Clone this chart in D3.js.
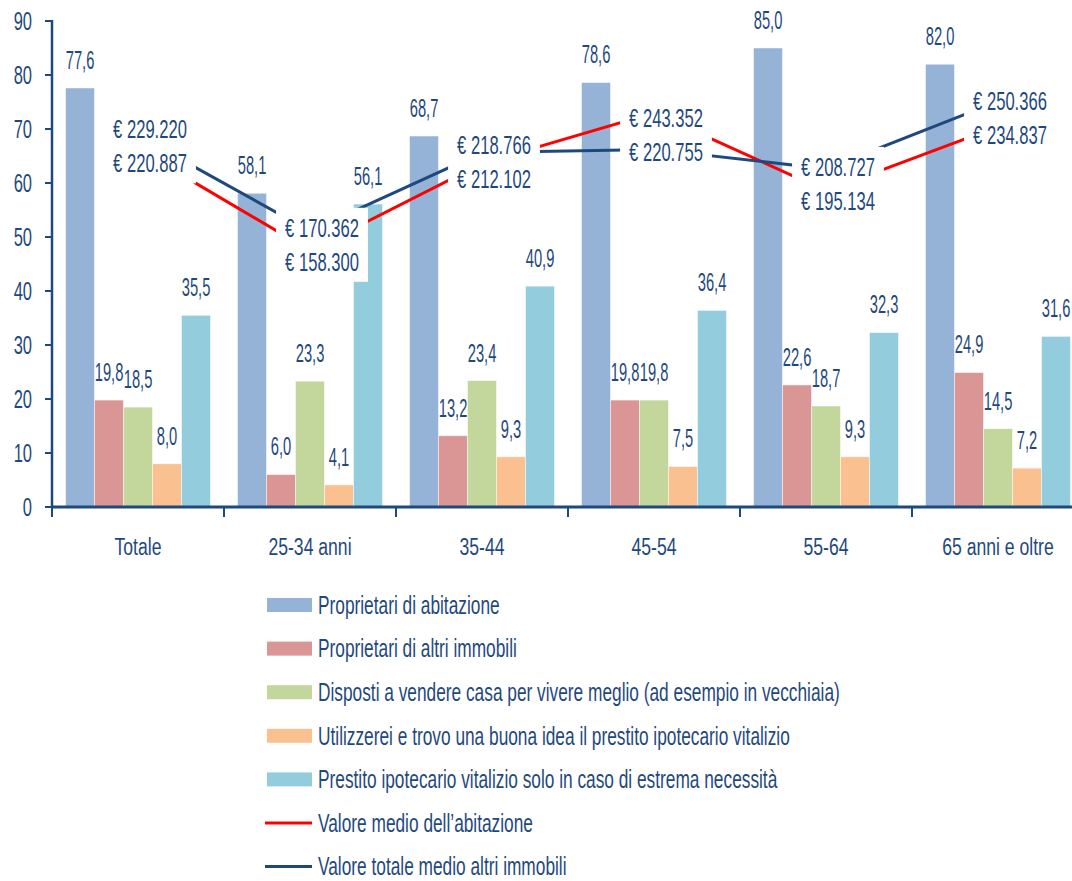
<!DOCTYPE html>
<html>
<head>
<meta charset="utf-8">
<script src="https://cdn.jsdelivr.net/npm/d3@7"></script>
<style>
  body { margin: 0; background: #fff; }
  svg text { font-family: "Liberation Sans", Arial, sans-serif; fill: #1F497D; }
</style>
</head>
<body>
<div id="chart"></div>
<script>
// Dati
var categories = ['Totale', '25-34 anni', '35-44', '45-54', '55-64', '65 anni e oltre'];
var barSeriesNames = [
  'Proprietari di abitazione',
  'Proprietari di altri immobili',
  'Disposti a vendere casa per vivere meglio (ad esempio in vecchiaia)',
  'Utilizzerei e trovo una buona idea il prestito ipotecario vitalizio',
  'Prestito ipotecario vitalizio solo in caso di estrema necessità'
];
var proprietariAbitazione = [77.6, 58.1, 68.7, 78.6, 85.0, 82.0];
var proprietariAltri = [19.8, 6.0, 13.2, 19.8, 22.6, 24.9];
var dispostiVendere = [18.5, 23.3, 23.4, 19.8, 18.7, 14.5];
var utilizzerei = [8.0, 4.1, 9.3, 7.5, 9.3, 7.2];
var prestitoNecessita = [35.5, 56.1, 40.9, 36.4, 32.3, 31.6];

var lineSeriesNames = ['Valore medio dell\u2019abitazione', 'Valore totale medio altri immobili'];
var valoreAbitazione = [220887, 158300, 212102, 243352, 195134, 234837];
var valoreAltri = [229220, 170362, 218766, 220755, 208727, 250366];

var yTicks = [0, 10, 20, 30, 40, 50, 60, 70, 80, 90];

var barColors = ['#95B3D7', '#D99694', '#C3D69B', '#FAC090', '#93CDDD'];
var lineColors = ['#FF0000', '#1F497D'];
var textColor = '#1F497D';

var barValues = [proprietariAbitazione, proprietariAltri, dispostiVendere, utilizzerei, prestitoNecessita];
var lineValues = [valoreAbitazione, valoreAltri];

// Dimensioni
var W = 1072, H = 881;
var plot = {left: 52, top: 21, bottom: 507, band: 172};

var svg = d3.select('#chart').append('svg')
  .attr('width', W)
  .attr('height', H);

var it = d3.formatLocale({decimal: ',', thousands: '.', grouping: [3], currency: ['€ ', '']});
var fmt1 = it.format('.1f');
var fmtEuro = it.format('$,d');

// Scale
var x = d3.scaleBand()
  .domain(categories)
  .range([plot.left, plot.left + plot.band * categories.length]);

var xInner = d3.scaleBand()
  .domain(d3.range(barValues.length))
  .range([13.5, plot.band - 13.5]);

var y = d3.scaleLinear().domain([0, 90]).range([plot.bottom, plot.top]);
var y2 = d3.scaleLinear().domain([0, 300000]).range([plot.bottom, plot.top]);

// testo stretto e allungato in verticale come nell'originale
function addText(parent, px, py, str, size, ky, anchor, kx) {
  return parent.append('g')
    .attr('transform', 'translate(' + px + ',' + py + ') scale(' + (kx || 1) + ',' + ky + ')')
    .append('text')
    .attr('dy', '0.35em')
    .attr('text-anchor', anchor || 'middle')
    .style('font-size', size + 'px')
    .text(str);
}

// Barre
var bars = svg.append('g').classed('bars', true);
barValues.forEach(function(vals, s) {
  bars.selectAll('.bar-' + s)
    .data(vals)
    .enter()
    .append('rect')
    .attr('class', 'bar-' + s)
    .attr('x', function(d, i) { return x(categories[i]) + xInner(s); })
    .attr('y', function(d) { return y(d); })
    .attr('width', xInner.bandwidth())
    .attr('height', function(d) { return y(0) - y(d); })
    .style('fill', barColors[s])
    .style('stroke', 'rgba(255,255,255,0.6)')
    .style('stroke-width', 0.8);
});

// Linee (asse secondario nascosto)
var cx = function(i) { return x(categories[i]) + x.bandwidth() / 2; };
var line = d3.line()
  .x(function(d, i) { return cx(i); })
  .y(function(d) { return y2(d); });

lineValues.forEach(function(vals, s) {
  svg.append('path')
    .datum(vals)
    .attr('d', line)
    .style('fill', 'none')
    .style('stroke', lineColors[s])
    .style('stroke-width', 3);
});

// Etichette valori in euro, con sfondo bianco
var euroLayer = svg.append('g').classed('euro-labels', true);
categories.forEach(function(c, i) {
  var a = valoreAbitazione[i], b = valoreAltri[i];
  var mid = (y2(a) + y2(b)) / 2 + 4;
  var top = Math.max(a, b), bottom = Math.min(a, b);
  var lx = cx(i) + 12;
  var box = euroLayer.append('rect').style('fill', '#fff');
  var t1 = addText(euroLayer, lx, mid - 17, fmtEuro(top), 16.6, 1.5);
  var t2 = addText(euroLayer, lx, mid + 17, fmtEuro(bottom), 16.6, 1.5);
  var w = Math.max(t1.node().getComputedTextLength(), t2.node().getComputedTextLength());
  box.attr('x', lx - w / 2 - 9)
    .attr('y', mid - 37)
    .attr('width', w + 18)
    .attr('height', 74);
});

// Etichette sopra le barre
var valueLayer = svg.append('g').classed('value-labels', true);
barValues.forEach(function(vals, s) {
  vals.forEach(function(v, i) {
    addText(valueLayer, x(categories[i]) + xInner(s) + xInner.bandwidth() / 2, y(v) - 28, fmt1(v), 17.5, 1.45, 'middle', 0.84);
  });
});

// Asse Y
var axisY = svg.append('g').classed('y axis', true);
axisY.append('line')
  .attr('x1', plot.left).attr('x2', plot.left)
  .attr('y1', y(90) - 1).attr('y2', y(0))
  .style('stroke', textColor).style('stroke-width', 2.5);
yTicks.forEach(function(t) {
  axisY.append('line')
    .attr('x1', plot.left - 7).attr('x2', plot.left)
    .attr('y1', y(t)).attr('y2', y(t))
    .style('stroke', textColor).style('stroke-width', 2);
  addText(axisY, plot.left - 20, y(t), t, 16.5, 1.55, 'end');
});

// Asse X
var axisX = svg.append('g').classed('x axis', true);
axisX.append('line')
  .attr('x1', plot.left - 1).attr('x2', W)
  .attr('y1', y(0)).attr('y2', y(0))
  .style('stroke', textColor).style('stroke-width', 3);
categories.forEach(function(c, i) {
  axisX.append('line')
    .attr('x1', x(c)).attr('x2', x(c))
    .attr('y1', y(0)).attr('y2', y(0) + 10)
    .style('stroke', textColor).style('stroke-width', 2);
  addText(axisX, cx(i), 546, c, 17.6, 1.38);
});

// Legenda
var legend = svg.append('g').classed('legend', true);
var legendItems = barSeriesNames.map(function(n, s) { return {name: n, type: 'bar', color: barColors[s]}; })
  .concat(lineSeriesNames.map(function(n, s) { return {name: n, type: 'line', color: lineColors[s]}; }));

legendItems.forEach(function(d, k) {
  var ly = 605 + k * 43.6;
  if (d.type === 'bar') {
    legend.append('rect')
      .attr('x', 267).attr('y', ly - 7)
      .attr('width', 45).attr('height', 14)
      .style('fill', d.color);
  } else {
    legend.append('line')
      .attr('x1', 265).attr('x2', 312)
      .attr('y1', ly).attr('y2', ly)
      .style('stroke', d.color).style('stroke-width', 3);
  }
  addText(legend, 318, ly, d.name, 17.3, 1.45, 'start');
});
</script>
</body>
</html>
